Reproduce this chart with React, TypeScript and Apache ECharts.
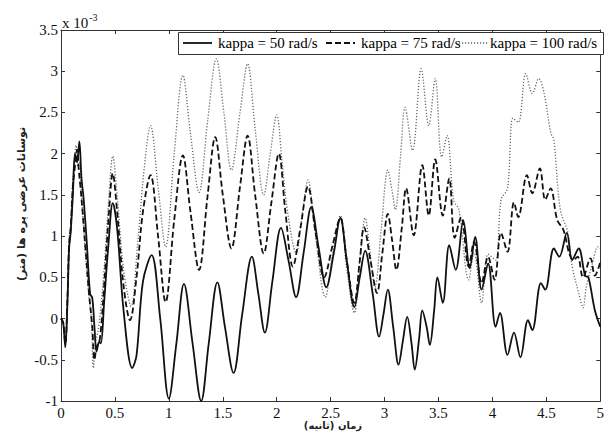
import React, { useEffect, useRef } from "react";
import * as echarts from "echarts";

// Time (s) and lateral blade displacement (x 10^-3 m)
const k50Time = [0, 0.02, 0.04, 0.06, 0.075, 0.09, 0.11, 0.13, 0.15, 0.17, 0.19, 0.21, 0.24, 0.27, 0.29, 0.31, 0.33, 0.355, 0.37, 0.4, 0.44, 0.48, 0.52, 0.58, 0.66, 0.7, 0.76, 0.84, 0.92, 1.0, 1.07, 1.14, 1.22, 1.3, 1.37, 1.45, 1.52, 1.6, 1.68, 1.77, 1.83, 1.89, 1.96, 2.04, 2.11, 2.18, 2.25, 2.32, 2.39, 2.46, 2.53, 2.59, 2.65, 2.72, 2.77, 2.82, 2.89, 2.95, 2.99, 3.03, 3.08, 3.13, 3.17, 3.21, 3.25, 3.28, 3.32, 3.35, 3.39, 3.42, 3.46, 3.49, 3.54, 3.6, 3.66, 3.73, 3.79, 3.84, 3.9, 3.96, 4.03, 4.07, 4.14, 4.2, 4.26, 4.33, 4.37, 4.45, 4.49, 4.57, 4.62, 4.69, 4.74, 4.8, 4.86, 4.89, 4.95, 5.0];
const k50Disp = [0, -0.05, -0.35, 0.2, 0.85, 1.05, 1.5, 2.0, 1.9, 2.15, 1.7, 1.45, 0.9, 0.3, 0.25, -0.1, -0.4, -0.28, -0.3, 0.2, 0.9, 1.4, 1.1, 0.1, -0.6, -0.45, 0.45, 0.77, 0.0, -0.97, -0.3, 0.42, -0.3, -1.0, -0.3, 0.44, -0.1, -0.66, 0.05, 0.75, 0.3, -0.17, 0.45, 1.1, 0.7, 0.26, 0.8, 1.35, 0.85, 0.38, 0.8, 1.22, 0.7, 0.14, 0.5, 0.82, 0.3, -0.22, 0.05, 0.35, -0.1, -0.56, -0.27, 0.02, -0.3, -0.62, -0.25, 0.1, -0.1, -0.32, 0.1, 0.5, 0.19, 0.89, 0.59, 1.19, 0.61, 0.99, 0.35, 0.67, -0.1, 0.07, -0.44, -0.17, -0.47, -0.02, -0.14, 0.43, 0.35, 0.85, 0.75, 1.04, 0.71, 0.85, 0.52, 0.5, 0.1, -0.1];

const k75Time = [0, 0.02, 0.04, 0.06, 0.075, 0.09, 0.11, 0.13, 0.15, 0.165, 0.18, 0.2, 0.23, 0.26, 0.29, 0.31, 0.33, 0.36, 0.4, 0.44, 0.48, 0.52, 0.58, 0.64, 0.7, 0.76, 0.83, 0.9, 0.97, 1.05, 1.13, 1.2, 1.28, 1.36, 1.43, 1.5, 1.58, 1.66, 1.73, 1.8, 1.88, 1.95, 2.02, 2.08, 2.15, 2.22, 2.29, 2.36, 2.44, 2.52, 2.59, 2.65, 2.72, 2.77, 2.81, 2.87, 2.93, 2.98, 3.03, 3.07, 3.11, 3.16, 3.2, 3.27, 3.35, 3.41, 3.47, 3.54, 3.6, 3.65, 3.71, 3.78, 3.83, 3.9, 3.96, 4.02, 4.08, 4.14, 4.2, 4.24, 4.32, 4.37, 4.44, 4.49, 4.54, 4.6, 4.66, 4.71, 4.75, 4.79, 4.84, 4.91, 4.95, 5.0];
const k75Disp = [0, -0.05, -0.3, 0.25, 0.9, 1.1, 1.6, 1.85, 2.05, 1.8, 1.6, 1.3, 0.8, 0.3, -0.1, -0.5, -0.35, -0.25, 0.4, 1.2, 1.76, 1.3, 0.4, -0.02, 0.5, 1.3, 1.74, 1.0, 0.2, 1.2, 1.98, 1.3, 0.59, 1.5, 2.2, 1.5, 0.85, 1.6, 2.22, 1.5, 0.79, 1.4, 2.0, 1.3, 0.63, 1.1, 1.6, 1.05, 0.5, 0.9, 1.22, 0.7, 0.19, 0.7, 1.11, 0.7, 0.31, 0.8, 1.27, 0.95, 0.59, 1.1, 1.58, 1.01, 1.86, 1.25, 1.93, 1.25, 1.7, 0.98, 1.23, 0.63, 0.93, 0.43, 0.75, 0.47, 1.04, 0.81, 1.41, 1.23, 1.74, 1.52, 1.82, 1.44, 1.58, 1.2, 1.07, 0.8, 0.71, 0.75, 0.5, 0.73, 0.52, 0.68];

const k100Time = [0, 0.02, 0.04, 0.06, 0.075, 0.09, 0.11, 0.13, 0.14, 0.155, 0.17, 0.19, 0.22, 0.25, 0.28, 0.3, 0.32, 0.35, 0.4, 0.44, 0.48, 0.52, 0.58, 0.65, 0.71, 0.77, 0.83, 0.9, 0.97, 1.05, 1.13, 1.2, 1.28, 1.36, 1.44, 1.51, 1.58, 1.66, 1.73, 1.8, 1.88, 1.94, 2.0, 2.05, 2.1, 2.18, 2.24, 2.29, 2.36, 2.45, 2.52, 2.59, 2.65, 2.72, 2.77, 2.82, 2.87, 2.91, 2.97, 3.03, 3.07, 3.1, 3.15, 3.19, 3.26, 3.34, 3.41, 3.47, 3.53, 3.58, 3.64, 3.69, 3.78, 3.83, 3.9, 3.96, 4.03, 4.08, 4.14, 4.19, 4.24, 4.31, 4.37, 4.43, 4.48, 4.54, 4.57, 4.63, 4.7, 4.74, 4.8, 4.84, 4.87, 4.92, 4.98, 5.0];
const k100Disp = [0, -0.05, -0.3, 0.3, 0.95, 1.15, 1.7, 2.0, 2.1, 1.85, 1.9, 1.5, 0.9, 0.4, 0.0, -0.6, -0.3, -0.1, 0.6, 1.4, 1.97, 1.5, 0.6, 0.15, 0.9, 1.8, 2.34, 1.6, 0.87, 2.0, 2.95, 2.25, 1.53, 2.4, 3.15, 2.5, 1.8, 2.5, 3.09, 2.3, 1.5, 2.0, 2.47, 1.9, 1.3, 0.8, 1.3, 1.68, 1.0, 0.26, 0.8, 1.25, 0.6, 0.07, 0.7, 1.22, 0.75, 0.38, 1.1, 1.8, 1.55, 1.32, 2.0, 2.56, 2.04, 3.03, 2.34, 2.91, 1.96, 2.22, 1.44, 1.32, 0.47, 0.8, 0.19, 0.78, 0.71, 1.44, 1.58, 2.43, 2.38, 2.97, 2.73, 2.91, 2.73, 2.26, 2.16, 1.32, 1.04, 0.63, 0.31, 0.13, 0.38, 0.63, 0.87, 0.85];

const seriesNames = ["kappa = 50 rad/s", "kappa = 75 rad/s", "kappa = 100 rad/s"];
const xTickLabels = ["0", "0.5", "1", "1.5", "2", "2.5", "3", "3.5", "4", "4.5", "5"];
const yTickLabels = ["-1", "-0.5", "0", "0.5", "1", "1.5", "2", "2.5", "3", "3.5"];
const xAxisTitle = "زمان (ثانیه)";
const yAxisTitle = "نوسانات عرضی پره ها (متر)";

const zip = (t: number[], v: number[]) => t.map((x, i) => [x, v[i]]);

export default function App() {
  const ref = useRef<HTMLDivElement>(null);
  useEffect(() => {
    if (!ref.current) return;
    const chart = echarts.init(ref.current, null, { renderer: "svg" });
    const serif = "Liberation Serif, serif";
    const persian = "DejaVu Sans, sans-serif";
    const labelStyle = { fontFamily: serif, fontSize: 15, color: "#111" };
    const tickCommon = { show: true, inside: true, length: 4, lineStyle: { color: "#333" } };
    const axisLine = { show: true, onZero: false, lineStyle: { color: "#333", width: 1 } };

    const styles = [
      { color: "#111", width: 1.8, type: "solid" as any, dash: null as number[] | null },
      { color: "#111", width: 1.8, type: [6, 3] as any, dash: [6, 3] },
      { color: "#666", width: 1.3, type: [1.2, 1.8] as any, dash: [1.2, 1.8] },
    ];
    const legendTextX = [218, 361, 490];
    const legendLineX = [183, 326, 459];
    const legendY = 43;

    const legendGraphics: any[] = [
      {
        type: "rect",
        shape: { x: 178.5, y: 32.5, width: 425, height: 22 },
        style: { fill: "#fff", stroke: "#333", lineWidth: 1 },
        z: 100,
      },
    ];
    seriesNames.forEach((name, i) => {
      const s = styles[i];
      legendGraphics.push({
        type: "line",
        shape: { x1: legendLineX[i], y1: legendY, x2: legendLineX[i] + 29, y2: legendY },
        style: { stroke: s.color, lineWidth: s.width, lineDash: s.dash || undefined },
        z: 101,
      });
      legendGraphics.push({
        type: "text",
        x: legendTextX[i],
        y: legendY,
        style: {
          text: name,
          fontFamily: serif,
          fontSize: 15,
          fill: "#000",
          align: "left",
          verticalAlign: "middle",
        },
        z: 101,
      });
    });

    chart.setOption({
      animation: false,
      backgroundColor: "#fff",
      grid: { left: 61, right: 2, top: 30, bottom: 40, containLabel: false },
      xAxis: [
        {
          type: "value",
          min: 0,
          max: 5,
          interval: 0.5,
          axisLine,
          axisTick: tickCommon,
          splitLine: { show: false },
          axisLabel: {
            ...labelStyle,
            margin: 4,
            formatter: (v: number) => xTickLabels[Math.round(v * 2)] ?? "",
          },
        },
        {
          type: "value",
          position: "top",
          min: 0,
          max: 5,
          interval: 0.5,
          axisLine,
          axisTick: tickCommon,
          splitLine: { show: false },
          axisLabel: { show: false },
        },
      ],
      yAxis: [
        {
          type: "value",
          min: -1,
          max: 3.5,
          interval: 0.5,
          axisLine,
          axisTick: tickCommon,
          splitLine: { show: false },
          axisLabel: {
            ...labelStyle,
            margin: 3,
            formatter: (v: number) => yTickLabels[Math.round((v + 1) * 2)] ?? "",
          },
        },
        {
          type: "value",
          position: "right",
          min: -1,
          max: 3.5,
          interval: 0.5,
          axisLine,
          axisTick: tickCommon,
          splitLine: { show: false },
          axisLabel: { show: false },
        },
      ],
      series: [
        {
          name: seriesNames[0],
          type: "line",
          data: zip(k50Time, k50Disp),
          smooth: 0.35,
          symbol: "none",
          lineStyle: { color: styles[0].color, width: styles[0].width, type: styles[0].type },
          z: 4,
        },
        {
          name: seriesNames[1],
          type: "line",
          data: zip(k75Time, k75Disp),
          smooth: 0.35,
          symbol: "none",
          lineStyle: { color: styles[1].color, width: styles[1].width, type: styles[1].type },
          z: 3,
        },
        {
          name: seriesNames[2],
          type: "line",
          data: zip(k100Time, k100Disp),
          smooth: 0.35,
          symbol: "none",
          lineStyle: { color: styles[2].color, width: styles[2].width, type: styles[2].type },
          z: 2,
        },
      ],
      graphic: [
        ...legendGraphics,
        {
          type: "text",
          left: 62,
          top: 12,
          style: {
            text: "{a|x 10}{b|-3}",
            rich: {
              a: { fontFamily: serif, fontSize: 15, fill: "#111", verticalAlign: "bottom", lineHeight: 18 },
              b: { fontFamily: serif, fontSize: 10, fill: "#111", verticalAlign: "top", lineHeight: 18, padding: [0, 0, 8, 1] },
            },
          },
        },
        {
          type: "text",
          x: 21,
          y: 204,
          rotation: Math.PI / 2,
          style: {
            text: yAxisTitle,
            fontFamily: persian,
            fontSize: 11,
            fontWeight: "bold",
            fill: "#222",
            align: "center",
            verticalAlign: "middle",
          },
        },
        {
          type: "text",
          x: 333,
          y: 425,
          style: {
            text: xAxisTitle,
            fontFamily: persian,
            fontSize: 10,
            fontWeight: "bold",
            fill: "#222",
            align: "center",
            verticalAlign: "middle",
          },
        },
      ],
    });
    return () => chart.dispose();
  }, []);
  return (
    <div
      ref={ref}
      style={{ position: "fixed", left: 0, top: 0, width: 607, height: 441, background: "#fff" }}
    />
  );
}
